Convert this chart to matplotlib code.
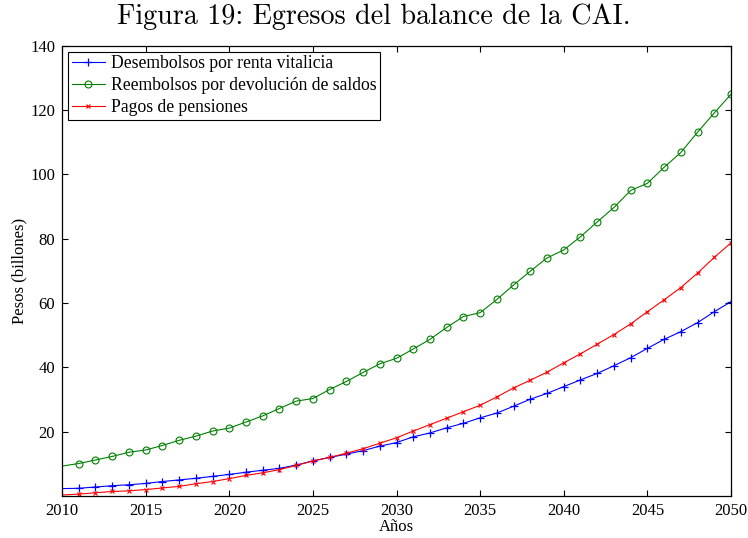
import matplotlib
matplotlib.use("Agg")
import matplotlib.pyplot as plt
import numpy as np

years = list(range(2010, 2051))

desembolsos = [2.3, 2.4, 2.8, 3.2, 3.5, 3.9, 4.5, 5.0, 5.5, 6.1, 6.7, 7.4, 8.0, 8.6, 9.6,
               10.9, 12.0, 13.0, 14.1, 15.5, 16.6, 18.4, 19.6, 21.2, 22.6, 24.3,
               25.8, 27.9, 30.1, 31.9, 34.0, 36.1, 38.1, 40.5, 43.0, 45.9, 48.7, 51.1, 53.9, 57.3, 60.4]

reembolsos = [9.3, 10.1, 11.2, 12.3, 13.6, 14.3, 15.7, 17.3, 18.6, 20.2, 21.1, 23.0, 24.9, 27.2, 29.5,
              30.3, 33.1, 35.6, 38.4, 41.1, 42.8, 45.7, 48.7, 52.4, 55.8, 57.0,
              61.1, 65.6, 69.9, 74.0, 76.5, 80.6, 85.2, 89.7, 95.0, 97.2, 102.2, 106.8, 113.1, 119.1, 124.9]

pensiones = [0.3, 0.6, 1.0, 1.4, 1.6, 2.0, 2.5, 3.0, 3.8, 4.5, 5.4, 6.4, 7.2, 8.2, 9.5,
             10.9, 12.0, 13.3, 14.7, 16.4, 18.1, 20.2, 22.2, 24.2, 26.2, 28.2,
             30.8, 33.6, 36.0, 38.5, 41.4, 44.2, 47.2, 50.2, 53.5, 57.3, 61.0, 64.8, 69.3, 74.2, 78.7]

labels = ["Desembolsos por renta vitalicia",
          "Reembolsos por devolución de saldos",
          "Pagos de pensiones"]

xticks = [2010, 2015, 2020, 2025, 2030, 2035, 2040, 2045, 2050]
yticks = [20, 40, 60, 80, 100, 120, 140]

plt.rcParams['font.family'] = ['Liberation Serif', 'DejaVu Serif']

fig = plt.figure(figsize=(7.48, 5.38), dpi=100)
ax = fig.add_axes([62/748, 1-496/538, (731-62)/748, (496-45.7)/538])

mk = list(range(1, len(years)))
ax.plot(years, desembolsos, color=(0, 0, 1), lw=0.8, marker='+', ms=6, mew=0.9,
        markevery=mk, label=labels[0])
ax.plot(years, reembolsos, color=(0, 0.5, 0), lw=0.8, marker='o', ms=5, mew=0.8,
        mfc='none', markevery=mk, label=labels[1])
ax.plot(years, pensiones, color=(1, 0, 0), lw=0.8, marker='x', ms=3.5, mew=0.8,
        markevery=mk, label=labels[2])

ax.set_xlim(2010, 2050)
ax.set_ylim(0, 140)
ax.set_xticks(xticks)
ax.set_yticks(yticks)
ax.tick_params(direction='in', length=4, width=0.8, top=True, right=True,
               labelsize=12, pad=5)
for s in ax.spines.values():
    s.set_linewidth(0.9)

ax.set_xlabel("Años", fontsize=12, labelpad=0)
ax.set_ylabel("Pesos (billones)", fontsize=12, labelpad=2)

leg = ax.legend(loc='upper left', fontsize=12.7, fancybox=False, framealpha=1,
                edgecolor='black', borderaxespad=0.35, handlelength=1.9,
                handletextpad=0.3, labelspacing=0.28, borderpad=0.2)
leg.get_frame().set_linewidth(0.8)

fig.text(0.5, 1-17/538, "Figura 19: Egresos del balance de la CAI.",
         family='cmr10', fontsize=20.3, ha='center', va='center')

fig.savefig("out.png", dpi=100)
